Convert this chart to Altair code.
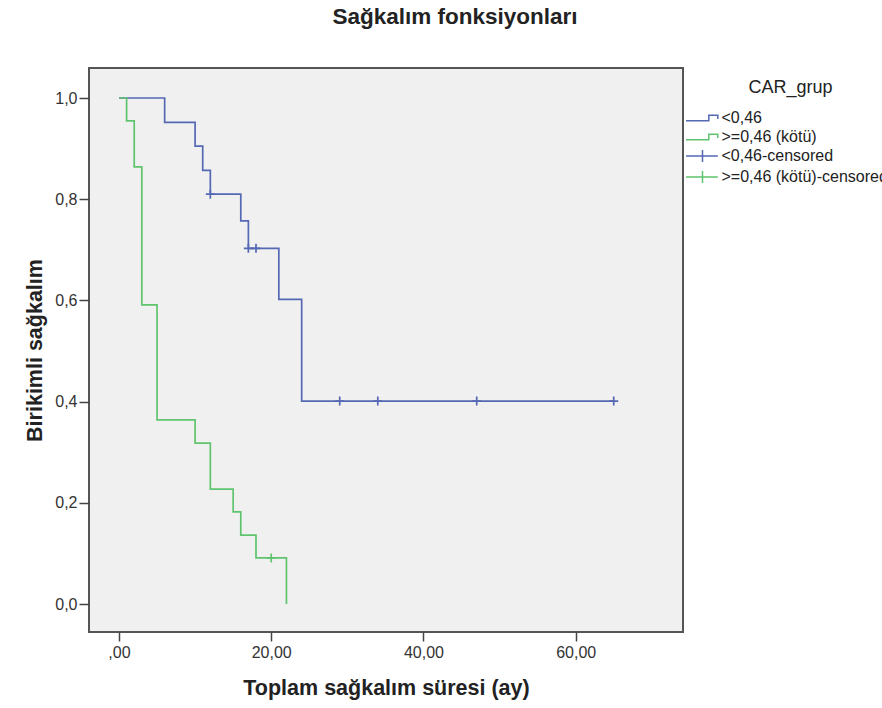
import altair as alt
import pandas as pd

# ---- data ----
groups = ["<0,46", ">=0,46 (kötü)", "<0,46-censored", ">=0,46 (kötü)-censored"]

low_time = [0, 6, 10, 11, 12, 16, 17, 21, 24, 65]
low_surv = [1.0, 0.952, 0.905, 0.857, 0.810, 0.757, 0.703, 0.602, 0.401, 0.401]
low_cens_time = [12, 17, 18, 29, 34, 47, 65]
low_cens_surv = [0.810, 0.703, 0.703, 0.401, 0.401, 0.401, 0.401]

high_time = [0, 1, 2, 3, 5, 10, 12, 15, 16, 18, 22]
high_surv = [1.0, 0.955, 0.864, 0.591, 0.364, 0.318, 0.227, 0.182, 0.136, 0.091, 0.0]
high_cens_time = [20]
high_cens_surv = [0.091]

x_ticks = [0, 20, 40, 60]
y_ticks = [0.0, 0.2, 0.4, 0.6, 0.8, 1.0]

colors = ["#5468b4", "#5fc46d", "#5468b4", "#5fc46d"]
step_path = "M-1.83,0.3L0.7,0.3L0.7,-0.3L1.7,-0.3L1.7,0.12"
cens_path = "M-1.83,0L1.7,0M0,-0.67L0,0.67"
plus_path = "M-1,0L1,0M0,-1L0,1"

lines = pd.concat([
    pd.DataFrame({"t": low_time, "s": low_surv, "grp": groups[0]}),
    pd.DataFrame({"t": high_time, "s": high_surv, "grp": groups[1]}),
], ignore_index=True)
cens = pd.concat([
    pd.DataFrame({"t": low_cens_time, "s": low_cens_surv, "grp": groups[2]}),
    pd.DataFrame({"t": high_cens_time, "s": high_cens_surv, "grp": groups[3]}),
], ignore_index=True)
allpts = pd.concat([lines, cens], ignore_index=True)

FONT = "Liberation Sans"

xenc = alt.X("t:Q",
             scale=alt.Scale(domain=[-3.94, 74.1], nice=False, zero=False),
             axis=alt.Axis(values=x_ticks, title="Toplam sağkalım süresi (ay)",
                           labelExpr="datum.value == 0 ? ',00' : replace(format(datum.value, '.2f'), '.', ',')",
                           tickSize=9, labelPadding=3, titlePadding=17))
yenc = alt.Y("s:Q",
             scale=alt.Scale(domain=[-0.0553, 1.0593], nice=False, zero=False),
             axis=alt.Axis(values=y_ticks, title="Birikimli sağkalım",
                           labelExpr="replace(format(datum.value, '.1f'), '.', ',')",
                           tickSize=10, labelPadding=2, titlePadding=8))
cscale = alt.Scale(domain=groups, range=colors)
sscale = alt.Scale(domain=groups, range=[step_path, step_path, cens_path, cens_path])

legend = alt.Legend(title="CAR_grup", orient="none", legendX=603.5, legendY=11,
                    titleFont=FONT, titleFontSize=18, titleFontWeight="normal",
                    titleColor="#222", titleAnchor="middle", titlePadding=11,
                    labelFont=FONT, labelFontSize=16, labelColor="#222",
                    labelOffset=9, symbolSize=324, symbolStrokeWidth=1.5,
                    symbolOpacity=1, symbolFillColor="transparent",
                    rowPadding=1, padding=0, labelLimit=400)

line_layer = alt.Chart(lines).mark_line(interpolate="step-after", strokeWidth=1.7).encode(
    x=xenc, y=yenc,
    color=alt.Color("grp:N", scale=cscale, legend=legend),
)
cens_layer = alt.Chart(cens).mark_point(shape=plus_path, size=81, filled=False,
                                         strokeWidth=1.7, opacity=1).encode(
    x=xenc, y=yenc,
    color=alt.Color("grp:N", scale=cscale, legend=legend),
)
legend_layer = alt.Chart(allpts).mark_point(filled=False, opacity=0, size=10).encode(
    x=xenc, y=yenc,
    color=alt.Color("grp:N", scale=cscale, legend=legend),
    shape=alt.Shape("grp:N", scale=sscale, legend=legend),
)

chart = alt.layer(line_layer, cens_layer, legend_layer).properties(
    width=594, height=564,
    autosize=alt.AutoSizeParams(type="none"),
    padding={"left": 89, "top": 68, "right": 199, "bottom": 76},
    background="white",
    title=alt.TitleParams("Sağkalım fonksiyonları", font=FONT, fontSize=22.5,
                          fontWeight="bold", color="#222", anchor="middle",
                          dx=69, offset=40),
).configure_view(
    fill="#f0f0f0", stroke="#555", strokeWidth=2,
).configure_axis(
    domain=False, grid=False, tickColor="#444", tickWidth=1.5,
    labelFont=FONT, labelFontSize=16, labelColor="#333",
    titleFont=FONT, titleFontSize=21.5, titleFontWeight="bold", titleColor="#222",
)

chart.save("out.html", embed_options={"renderer": "svg", "actions": False})
